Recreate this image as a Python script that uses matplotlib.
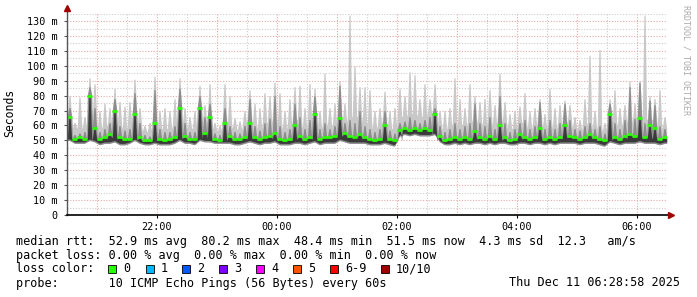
import numpy as np
import matplotlib
matplotlib.use("Agg")
import matplotlib.pyplot as plt
from matplotlib.patches import Rectangle

# 5-minute buckets starting at 20:30 (minutes since 20:30)
step = 5
# median rtt (ms)
med = [66, 51, 52, 51, 80, 58, 51, 52, 54, 70, 52, 51, 51, 68, 52, 50, 50, 62, 51, 50,
       51, 52, 72, 53, 51, 51, 72, 55, 66, 51, 50, 62, 53, 51, 51, 52, 62, 52, 51, 52,
       53, 55, 51, 50, 51, 60, 53, 51, 52, 68, 51, 52, 52, 53, 65, 55, 53, 52, 54, 52,
       51, 50, 51, 60, 51, 50, 57, 58, 57, 58, 57, 58, 57, 68, 53, 50, 51, 52, 51, 52,
       51, 56, 52, 51, 53, 51, 60, 52, 50, 51, 54, 52, 51, 52, 58, 51, 52, 51, 52, 60,
       53, 52, 51, 52, 54, 52, 51, 50, 68, 52, 51, 53, 54, 53, 65, 52, 60, 58, 51, 52]
# lowest ping
lo = [50, 48, 48, 48, 50, 49, 47, 48, 48, 49, 47, 47, 48, 50, 48, 47, 47, 48, 47, 47,
      47, 48, 50, 48, 48, 47, 50, 49, 49, 48, 48, 48, 48, 47, 47, 48, 49, 48, 47, 48,
      48, 49, 47, 47, 47, 48, 48, 47, 48, 49, 47, 48, 48, 48, 50, 49, 48, 48, 48, 48,
      47, 47, 47, 48, 47, 46, 53, 54, 53, 54, 53, 53, 53, 54, 49, 47, 47, 48, 47, 48,
      47, 48, 48, 47, 48, 47, 48, 48, 47, 47, 48, 48, 47, 48, 48, 47, 48, 47, 48, 48,
      48, 48, 47, 48, 48, 48, 47, 46, 49, 48, 47, 48, 48, 48, 49, 48, 48, 48, 47, 48]
# peak of the dense smoke in each bucket
dark = [72, 54, 55, 56, 86, 72, 56, 58, 62, 78, 60, 57, 58, 82, 62, 54, 53, 84, 58, 56,
        56, 60, 85, 62, 56, 56, 80, 66, 75, 55, 54, 72, 60, 56, 55, 60, 78, 60, 57, 62,
        65, 80, 60, 56, 58, 75, 66, 58, 64, 80, 58, 62, 58, 60, 87, 62, 64, 62, 70, 60,
        58, 56, 58, 70, 57, 55, 62, 63, 66, 64, 62, 64, 66, 72, 60, 56, 58, 62, 58, 60,
        62, 75, 62, 60, 66, 58, 80, 62, 56, 58, 62, 64, 58, 60, 76, 58, 64, 58, 62, 75,
        64, 58, 57, 60, 62, 58, 60, 55, 75, 62, 58, 64, 86, 65, 89, 62, 77, 74, 60, 58]
# highest ping in each bucket
hi = [80, 62, 79, 66, 92, 88, 70, 75, 72, 85, 76, 73, 76, 91, 72, 60, 62, 93, 70, 72,
      70, 78, 92, 72, 66, 70, 87, 74, 88, 62, 60, 88, 80, 65, 63, 70, 84, 75, 72, 82,
      80, 89, 82, 70, 78, 86, 87, 72, 88, 85, 70, 95, 72, 75, 90, 75, 134, 100, 86, 86,
      84, 70, 72, 83, 70, 72, 85, 80, 96, 94, 78, 88, 78, 88, 70, 70, 72, 92, 78, 72,
      88, 80, 76, 78, 84, 74, 95, 76, 68, 70, 73, 82, 70, 72, 78, 68, 85, 72, 74, 77,
      74, 66, 64, 78, 107, 70, 111, 62, 78, 84, 72, 74, 90, 75, 90, 134, 80, 78, 84, 66]
# typical top of the light smoke between spikes
top = [64, 58, 60, 58, 70, 66, 58, 60, 60, 66, 60, 58, 60, 68, 60, 56, 56, 66, 58, 58,
       58, 60, 68, 60, 58, 58, 66, 62, 64, 57, 56, 64, 60, 58, 57, 60, 66, 60, 58, 62,
       62, 66, 60, 58, 60, 64, 64, 58, 62, 66, 58, 62, 60, 60, 68, 62, 66, 66, 66, 62,
       62, 58, 60, 64, 58, 58, 66, 66, 68, 68, 66, 66, 68, 70, 60, 57, 60, 62, 60, 60,
       62, 64, 62, 60, 64, 60, 66, 62, 58, 58, 62, 62, 58, 60, 64, 58, 62, 58, 60, 64,
       62, 58, 57, 60, 62, 58, 60, 56, 64, 62, 60, 62, 66, 62, 68, 64, 64, 64, 60, 58]

time_labels = ["22:00", "00:00", "02:00", "04:00", "06:00"]
time_label_pos = [90, 210, 330, 450, 570]

legend_lines = [
    "median rtt:  52.9 ms avg  80.2 ms max  48.4 ms min  51.5 ms now  4.3 ms sd  12.3   am/s",
    "packet loss: 0.00 % avg  0.00 % max  0.00 % min  0.00 % now",
]
loss_names = ["0", "1", "2", "3", "4", "5", "6-9", "10/10"]
loss_colors = ["#26ff00", "#00b8ff", "#0059ff", "#7e00ff", "#ff00ff", "#ff5500", "#ff0000", "#a00000"]
loss_x = [108, 146, 182, 219, 256, 293, 330, 381]
probe_line = "probe:       10 ICMP Echo Pings (56 Bytes) every 60s"
stamp = "Thu Dec 11 06:28:58 2025"

W, H = 697, 297
fig = plt.figure(figsize=(W / 100, H / 100), dpi=100)
fig.patch.set_facecolor("white")

x0, x1 = 67, 667
y0, ytop = 215, 13.6
ax = fig.add_axes([x0 / W, 1 - y0 / H, (x1 - x0) / W, (y0 - ytop) / H])
ax.set_xlim(0, 600)
ax.set_ylim(0, 135)
for s in ax.spines.values():
    s.set_visible(False)

# grid
for v in range(5, 136, 5):
    major = v % 10 == 0
    ax.axhline(v, color="#e8a8a8" if major else "#cccccc", lw=0.8,
               ls=(0, (1, 1.5)), zorder=1)
for t in range(30, 600, 30):
    major = t % 60 == 30
    ax.axvline(t, color="#e8a8a8" if major else "#cccccc", lw=0.8,
               ls=(0, (1, 1.5)), zorder=1)

n = len(med)
starts = np.arange(n) * step
tc = starts + step / 2

# spiky outline: floor at bucket edges, peak in the middle
def spikes(peak, floor):
    xs, ys = [], []
    for i in range(n):
        xs += [starts[i] + 0.3, tc[i] - 0.6, tc[i] + 0.6, starts[i] + step - 0.3]
        ys += [floor[i], peak[i], peak[i], floor[i]]
    return np.array(xs), np.array(ys)

med_arr = np.array(med)
core_floor = np.minimum(med_arr, np.minimum(np.roll(med_arr, 1), np.roll(med_arr, -1)))

xs, hi_line = spikes(hi, top)
_, dark_line = spikes(dark, med)
_, core_line = spikes(med, core_floor)
lo_line = np.interp(xs, tc, lo)

ax.fill_between(xs, lo_line, hi_line, color="#c8c8c8", lw=0, zorder=2)
ax.fill_between(xs, lo_line, np.maximum(dark_line, core_line), color="#8c8c8c", lw=0, zorder=3)
ax.fill_between(xs, lo_line + 1, core_line, color="#3a3a3a", lw=0, zorder=4)
ax.hlines(med, starts, starts + step, color="#26ff00", lw=2, zorder=5)

# axes lines with arrows
ax.plot([0, 0], [0, 138], color="#555555", lw=1, clip_on=False, zorder=6)
ax.plot([0], [139], marker="^", color="#a00000", ms=4, clip_on=False, zorder=7)
ax.plot([0, 603], [0, 0], color="black", lw=1.2, clip_on=False, zorder=6)
ax.plot([604], [0], marker=">", color="#a00000", ms=4, clip_on=False, zorder=7)

mono = "DejaVu Sans Mono"
ax.set_yticks(range(0, 131, 10))
ax.set_yticklabels(["0"] + [f"{v} m" for v in range(10, 131, 10)], family=mono, fontsize=7.3)
ax.set_xticks(time_label_pos)
ax.set_xticklabels(time_labels, family=mono, fontsize=7.3)
ax.tick_params(axis="y", length=2, pad=5, color="#555555")
ax.tick_params(axis="x", length=2, pad=3, color="black")

fig.text(10 / W, 1 - 113 / H, "Seconds", rotation=90, family=mono, fontsize=8.3,
         ha="center", va="center")
fig.text(686 / W, 1 - 60 / H, "RRDTOOL / TOBI OETIKER", rotation=270, family=mono,
         fontsize=6, color="#aaaaaa", ha="center", va="center")

fs = 8.5
row_y = [241, 255, 269, 283]
for line, yy in zip(legend_lines, row_y):
    fig.text(16 / W, 1 - yy / H, line, family=mono, fontsize=fs, ha="left", va="center")

fig.text(16 / W, 1 - row_y[2] / H, "loss color:", family=mono, fontsize=fs, ha="left", va="center")
for xx, name, col in zip(loss_x, loss_names, loss_colors):
    fig.add_artist(Rectangle((xx / W, 1 - (row_y[2] + 4) / H), 8 / W, 8 / H,
                             transform=fig.transFigure, facecolor=col,
                             edgecolor="black", lw=0.6))
    fig.text((xx + 15) / W, 1 - row_y[2] / H, name, family=mono, fontsize=fs,
             ha="left", va="center")

fig.text(16 / W, 1 - row_y[3] / H, probe_line, family=mono, fontsize=fs, ha="left", va="center")
fig.text(680 / W, 1 - row_y[3] / H, stamp, family=mono, fontsize=fs, ha="right", va="center")

fig.savefig("out.png", dpi=100, facecolor="white")
